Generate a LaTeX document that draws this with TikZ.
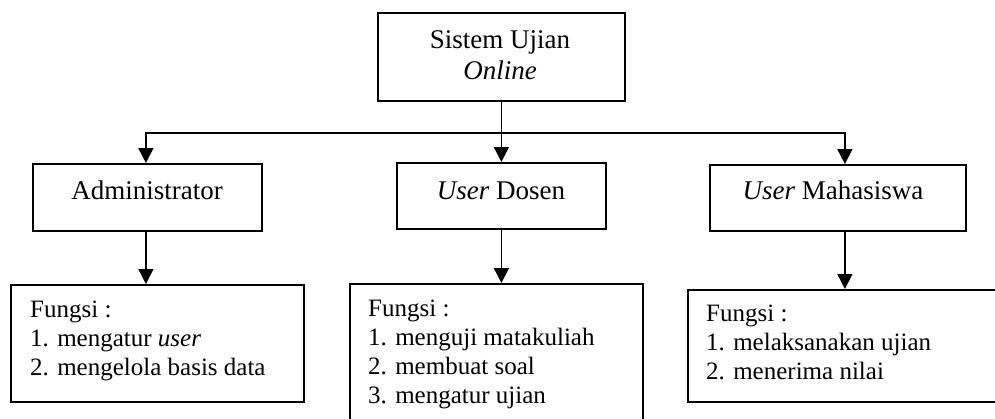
\documentclass[tikz,border=0pt]{standalone}
\usepackage{fontspec}
\setmainfont{Liberation Serif}
\usetikzlibrary{arrows.meta}
\begin{document}
\begin{tikzpicture}[x=1pt,y=-1pt,
  box/.style={draw, line width=1.8pt, rectangle, inner sep=0pt, anchor=north west},
  lbl/.style={font=\fontsize{27}{31}\selectfont, inner sep=0pt, anchor=base},
  item/.style={font=\fontsize{25}{29}\selectfont, inner sep=0pt, anchor=base west},
  link/.style={line width=1.5pt},
  arr/.style={link, -{Triangle[length=15pt,width=15pt]}}]
\useasboundingbox (0,0) rectangle (995,418);
\clip (0,0) rectangle (995,418);

% boxes
\node[box, minimum width=247pt, minimum height=88pt] (top) at (377,12) {};
\node[box, minimum width=229pt, minimum height=67pt] (adm) at (32,163) {};
\node[box, minimum width=209pt, minimum height=66pt] (dos) at (396,162) {};
\node[box, minimum width=256pt, minimum height=66pt] (mhs) at (709,164) {};
\node[box, minimum width=293pt, minimum height=117pt] (admf) at (10,284) {};
\node[box, minimum width=293pt, minimum height=160pt] (dosf) at (349,283) {};
\node[box, minimum width=330pt, minimum height=112pt] (mhsf) at (687,289) {};

% titles
\node[lbl] (t1) at (500,48) {Sistem Ujian};
\node[lbl] (t2) at (500,79) {\textit{Online}};
\node[lbl] (a1) at (147,199) {Administrator};
\node[lbl] (d1) at (501,199) {\textit{User} Dosen};
\node[lbl] (m1) at (833,199) {\textit{User} Mahasiswa};

% function lists
\node[item] (af0) at (30,317) {Fungsi :};
\node[item] (af1) at (30,346) {1. mengatur \textit{user}};
\node[item] (af2) at (30,375) {2. mengelola basis data};

\node[item] (df0) at (368,316) {Fungsi :};
\node[item] (df1) at (368,345) {1. menguji matakuliah};
\node[item] (df2) at (368,374) {2. membuat soal};
\node[item] (df3) at (368,403) {3. mengatur ujian};

\node[item] (mf0) at (706,321) {Fungsi :};
\node[item] (mf1) at (706,350) {1. melaksanakan ujian};
\node[item] (mf2) at (706,379) {2. menerima nilai};

% connectors
\coordinate (bus) at (500,133);
\draw[arr] (top.south) -- (dos.north);
\draw[arr] (top.south |- bus) -| ([xshift=-1.5pt]adm.north);
\draw[arr] (top.south |- bus) -| ([xshift=7pt]mhs.north);
\draw[arr] ([xshift=-1.5pt]adm.south) -- ([xshift=-1.5pt]adm.south |- admf.north);
\draw[arr] (dos.south) -- (dos.south |- dosf.north);
\draw[arr] ([xshift=7pt]mhs.south) -- ([xshift=7pt]mhs.south |- mhsf.north);
\end{tikzpicture}
\end{document}
